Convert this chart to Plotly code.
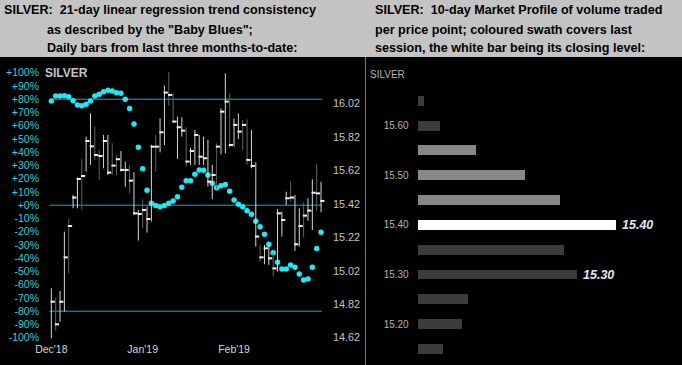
import plotly.graph_objects as go

# ---------------- data: left panel (daily bars, price) ----------------
highs = [14.915, 14.859, 14.899, 15.254, 15.333, 15.473, 15.578, 15.686, 15.821, 15.960,
         15.881, 15.741, 15.831, 15.831, 15.781, 15.711, 15.735, 15.672, 15.652, 15.608,
         15.383, 15.447, 15.403, 15.771, 15.831, 15.930, 16.126, 16.205, 16.080, 15.940,
         15.936, 15.877, 15.755, 15.861, 15.831, 15.821, 15.801, 15.652, 15.781, 15.990,
         16.199, 16.080, 15.930, 15.960, 15.920, 15.924, 15.861, 15.668, 15.174, 15.174,
         15.174, 15.124, 15.389, 15.373, 15.492, 15.552, 15.473, 15.393, 15.429, 15.453,
         15.566, 15.656, 15.552]
lows = [14.616, 14.662, 14.716, 14.776, 15.005, 15.393, 15.393, 15.383, 15.612, 15.652,
        15.682, 15.562, 15.632, 15.592, 15.592, 15.592, 15.612, 15.522, 15.482, 15.353,
        15.200, 15.273, 15.248, 15.313, 15.612, 15.727, 15.771, 16.006, 15.901, 15.688,
        15.821, 15.642, 15.652, 15.652, 15.652, 15.652, 15.522, 15.447, 15.512, 15.715,
        15.721, 15.755, 15.761, 15.807, 15.741, 15.652, 15.632, 15.164, 15.074, 15.058,
        15.054, 14.985, 15.015, 15.224, 15.413, 15.433, 15.138, 15.164, 15.218, 15.317,
        15.263, 15.379, 15.369]
closes = [14.835, 14.700, 14.835, 15.100, 15.287, 15.457, 15.568, 15.586, 15.795, 15.763,
          15.711, 15.705, 15.795, 15.606, 15.648, 15.686, 15.622, 15.622, 15.558, 15.363,
          15.359, 15.383, 15.329, 15.761, 15.761, 15.847, 16.084, 16.070, 15.911, 15.877,
          15.857, 15.672, 15.735, 15.831, 15.701, 15.692, 15.552, 15.592, 15.761, 15.970,
          16.030, 15.771, 15.891, 15.851, 15.891, 15.682, 15.646, 15.224, 15.100, 15.154,
          15.094, 15.034, 15.363, 15.323, 15.453, 15.457, 15.178, 15.287, 15.349, 15.379,
          15.486, 15.482, 15.437]
# bar shade as drawn in the source (1 = light grey, 0 = dark grey)
bar_shade = [1, 0, 1, 1, 0, 1, 1, 0, 1, 1,
             0, 0, 1, 1, 0, 0, 1, 1, 0, 1,
             1, 0, 1, 1, 0, 1, 1, 0, 0, 1,
             1, 0, 1, 1, 1, 1, 1, 1, 0, 1,
             1, 0, 1, 1, 0, 0, 1, 1, 0, 1,
             1, 0, 1, 1, 1, 0, 1, 1, 0, 1,
             1, 0, 1]
# "Baby Blues": 21-day linear regression trend consistency (%)
trend = [78.6, 82.4, 82.4, 82.7, 81.9, 78.9, 75.6, 75.1, 76.1, 78.6,
         82.4, 83.7, 85.7, 86.7, 86.2, 84.9, 84.4, 79.9, 72.9, 61.3,
         43.7, 27.6, 11.2, 1.4, -0.3, -1.1, -0.3, 1.4, 3.2, 6.4,
         13.5, 18.5, 18.5, 23.3, 26.6, 26.3, 22.8, 16.5, 13.2, 14.7,
         15.7, 10.5, 3.9, 0.7, -1.1, -4.1, -6.9, -12.2, -16.2, -22.0,
         -29.5, -35.8, -43.1, -48.2, -48.2, -45.1, -46.9, -51.9, -56.5, -55.7,
         -46.9, -32.6, -20.5]
month_labels = ["Dec'18", "Jan'19", "Feb'19"]
month_starts = [0, 21, 42]
pct_ticks = list(range(-100, 101, 10))
price_ticks = [14.62, 14.82, 15.02, 15.22, 15.42, 15.62, 15.82, 16.02]
ref_levels = [80, 0, -80]

# ---------------- data: right panel (market profile) ----------------
profile_prices = [15.65, 15.60, 15.55, 15.50, 15.45, 15.40, 15.35, 15.30, 15.25, 15.20, 15.15]
profile_volume = [3.2, 11.1, 29.4, 54.2, 71.9, 100.0, 73.5, 80.5, 25.3, 22.2, 12.4]
session_swath = [15.55, 15.50, 15.45]
close_level = 15.40
labelled_levels = [15.40, 15.30]
profile_ticks = [15.20, 15.30, 15.40, 15.50, 15.60]

FONT = "Liberation Sans, Arial, sans-serif"
W, H = 682, 365

idx = list(range(len(highs)))

fig = go.Figure()
for shade, col in ((1, "#d4d4d4"), (0, "#626262")):
    seg_x, seg_y = [], []
    for i, (h, l, s) in enumerate(zip(highs, lows, bar_shade)):
        if s == shade:
            seg_x += [i, i, None]
            seg_y += [l, h, None]
    fig.add_trace(go.Scatter(x=seg_x, y=seg_y, mode="lines", xaxis="x", yaxis="y2",
                             line=dict(color=col, width=1), hoverinfo="skip"))
fig.add_trace(go.Scatter(x=[i + 0.3 for i in idx], y=closes, mode="markers", xaxis="x", yaxis="y2",
                         marker=dict(symbol="line-ew", size=3,
                                     line=dict(color="#f0f0f0", width=2)), hoverinfo="skip"))
fig.add_trace(go.Scatter(x=idx, y=trend, mode="markers", xaxis="x", yaxis="y",
                         marker=dict(color="#22e6f0", size=5.5, line=dict(width=0))))

def prof_color(p):
    if abs(p - close_level) < 1e-9:
        return "#ffffff"
    if any(abs(p - s) < 1e-9 for s in session_swath):
        return "#888888"
    return "#3c3c3c"

fig.add_trace(go.Bar(x=profile_volume, y=profile_prices, orientation="h", width=0.02,
                     xaxis="x2", yaxis="y3",
                     marker=dict(color=[prof_color(p) for p in profile_prices],
                                 line=dict(width=0))))

shapes = []
# header band
shapes.append(dict(type="rect", xref="paper", yref="paper", x0=0, x1=1,
                   y0=1 - 57 / H, y1=1, fillcolor="#c3c3c3", line=dict(width=0), layer="below"))
# panel divider
shapes.append(dict(type="line", xref="paper", yref="paper", x0=365.5 / W, x1=365.5 / W,
                   y0=0, y1=1 - 57 / H, line=dict(color="#7a7a7a", width=1)))
for lv in ref_levels:
    shapes.append(dict(type="line", xref="x", yref="y", x0=-0.45, x1=len(idx) - 1 + 0.2,
                       y0=lv, y1=lv, line=dict(color="#1ea5cf", width=1), layer="below"))

ann = []
def hdr(text, px, py):
    ann.append(dict(text="<b>%s</b>" % text, xref="paper", yref="paper",
                    x=px / W, y=1 - py / H, xanchor="left", yanchor="middle",
                    showarrow=False, font=dict(family=FONT, size=12.6, color="#000000")))

hdr("SILVER:&nbsp;&nbsp;21-day linear regression trend consistency", 2, 10)
hdr('as described by the "Baby Blues";', 45, 29.5)
hdr("Daily bars from last three months-to-date:", 45, 48)
hdr("SILVER:&nbsp;&nbsp;10-day Market Profile of volume traded", 373, 10)
hdr("per price point; coloured swath covers last", 373, 29.5)
hdr("session, the white bar being its closing level:", 373, 48)

ann.append(dict(text="<b>SILVER</b>", xref="paper", yref="paper", x=43 / W, y=1 - 72.7 / H,
                xanchor="left", yanchor="middle", showarrow=False,
                font=dict(family=FONT, size=12, color="#c4c4c4")))
ann.append(dict(text="SILVER", xref="paper", yref="paper", x=368 / W, y=1 - 75 / H,
                xanchor="left", yanchor="middle", showarrow=False,
                font=dict(family=FONT, size=10, color="#b4b4b4")))
for p in labelled_levels:
    v = profile_volume[profile_prices.index(p)]
    ann.append(dict(text="<b><i>%.2f</i></b>" % p, xref="x2", yref="y3", x=v, y=p,
                    xanchor="left", yanchor="middle", xshift=4, showarrow=False,
                    font=dict(family=FONT, size=12.5, color="#e2e9f2")))

# left plot box in pixels: x 46..330, y 64..341
y_dom = [(H - 341) / H, (H - 64) / H]
fig.update_layout(
    template="none",
    width=W, height=H, margin=dict(l=0, r=0, t=0, b=0, pad=0, autoexpand=False),
    paper_bgcolor="#000000", plot_bgcolor="rgba(0,0,0,0)", showlegend=False,
    shapes=shapes, annotations=ann, bargap=0,
    xaxis=dict(domain=[46 / W, 330 / W], range=[-1.225, 64.06], anchor="y", automargin=False,
               tickvals=month_starts, ticktext=month_labels, showgrid=False,
               zeroline=False, showline=False, ticks="",
               tickfont=dict(family=FONT, size=10.5, color="#d6d6d6")),
    yaxis=dict(domain=y_dom, range=[-102.49, 106.57], anchor="x", automargin=False,
               tickvals=pct_ticks,
               ticktext=[("+%d%%" % v) if v >= 0 else ("%d%%" % v) for v in pct_ticks],
               showgrid=False, zeroline=False, showline=False, ticks="",
               ticklabelstandoff=6,
               tickfont=dict(family=FONT, size=10.5, color="#2fd2da")),
    yaxis2=dict(overlaying="y", side="right", anchor="x", range=[14.6003, 16.2548],
                automargin=False,
                tickvals=price_ticks, ticktext=["%.2f" % v for v in price_ticks],
                showgrid=False, zeroline=False, showline=False, ticks="",
                ticklabelstandoff=2,
                tickfont=dict(family=FONT, size=10.8, color="#c4c4c4")),
    xaxis2=dict(domain=[417.7 / W, 1.0], range=[0, 133.5], anchor="y3", visible=False,
                automargin=False),
    yaxis3=dict(domain=[(H - 362) / H, (H - 58) / H], range=[15.1238, 15.736], anchor="x2",
                automargin=False,
                tickvals=profile_ticks, ticktext=["%.2f" % v for v in profile_ticks],
                showgrid=False, zeroline=False, showline=False, ticks="",
                ticklabelstandoff=8,
                tickfont=dict(family=FONT, size=10, color="#b4b4b4")),
)

fig.write_html("out.html", config={"displayModeBar": False},
               post_script="document.body.style.margin='0';document.body.style.overflow='hidden';")
